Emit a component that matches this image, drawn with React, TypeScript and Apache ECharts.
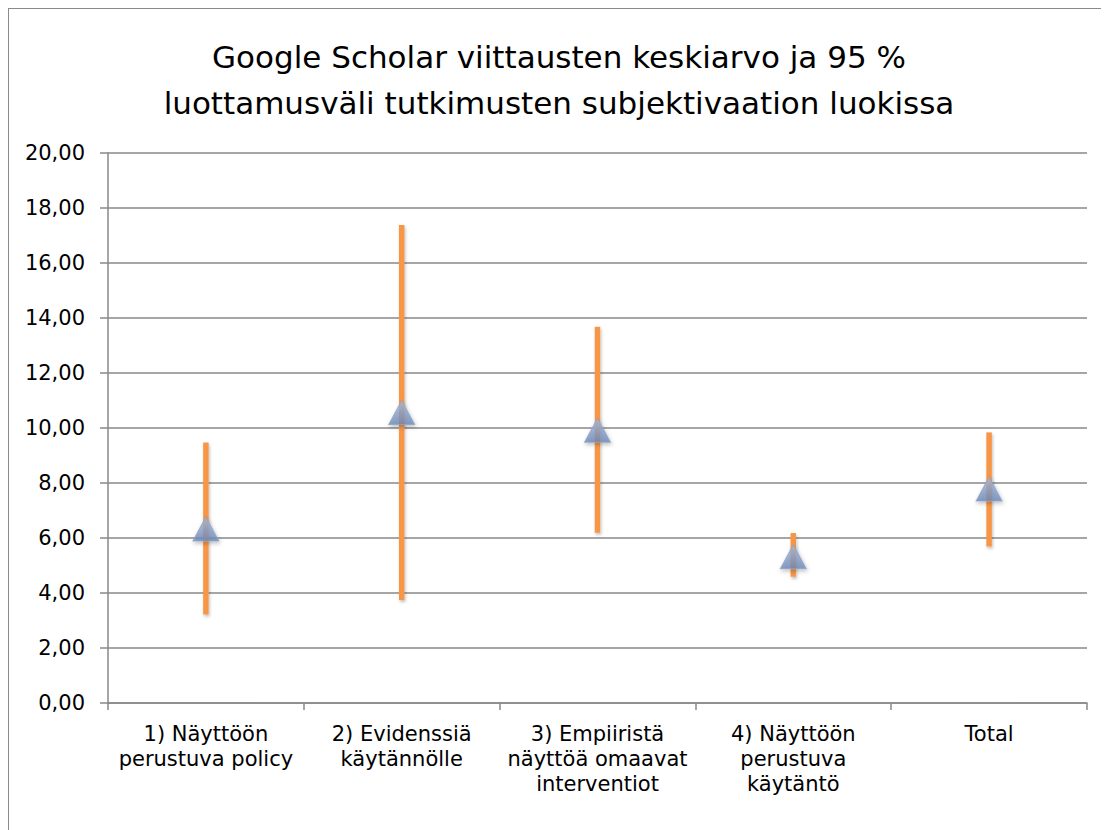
import React, { useEffect, useRef } from "react";
import * as echarts from "echarts";

const titleLines = [
  "Google Scholar viittausten keskiarvo ja 95 %",
  "luottamusväli tutkimusten subjektivaation luokissa",
];
const categories = [
  "1) Näyttöön\nperustuva policy",
  "2) Evidenssiä\nkäytännölle",
  "3) Empiiristä\nnäyttöä omaavat\ninterventiot",
  "4) Näyttöön\nperustuva\nkäytäntö",
  "Total",
];
const means = [6.33, 10.56, 9.92, 5.32, 7.78];
const lower = [3.22, 3.75, 6.19, 4.59, 5.69];
const upper = [9.47, 17.38, 13.68, 6.18, 9.84];

const FONT = "'DejaVu Sans', Verdana, sans-serif";

export default function App() {
  const ref = useRef<HTMLDivElement>(null);
  useEffect(() => {
    if (!ref.current) return;
    const chart = echarts.init(ref.current, undefined, { renderer: "svg" });
    const errData = categories.map((_, i) => [i, lower[i], upper[i]]);
    chart.setOption({
      animation: false,
      backgroundColor: "#ffffff",
      title: {
        text: titleLines.join("\n"),
        left: "center",
        top: 20,
        textStyle: {
          fontFamily: FONT,
          fontSize: 31,
          fontWeight: "normal",
          color: "#000000",
          lineHeight: 46,
        },
      },
      grid: { left: 99, right: 22, top: 144, bottom: 127 },
      xAxis: {
        type: "category",
        data: categories,
        boundaryGap: true,
        axisLine: { lineStyle: { color: "#888888", width: 1.5 } },
        axisTick: { show: true, length: 7, lineStyle: { color: "#888888", width: 1.5 } },
        axisLabel: {
          interval: 0,
          margin: 18,
          fontFamily: FONT,
          fontSize: 21,
          lineHeight: 25,
          color: "#000000",
          align: "center",
        },
        splitLine: { show: false },
      },
      yAxis: {
        type: "value",
        min: 0,
        max: 20,
        interval: 2,
        axisLine: { show: true, lineStyle: { color: "#888888", width: 1.5 } },
        axisTick: { show: true, length: 8, inside: false, lineStyle: { color: "#888888", width: 1.5 } },
        axisLabel: {
          margin: 23,
          fontFamily: FONT,
          fontSize: 21,
          color: "#000000",
          formatter: (v: number) => v.toFixed(2).replace(".", ","),
        },
        splitLine: { show: true, lineStyle: { color: "#888888", width: 1.5 } },
      },
      series: [
        {
          type: "custom",
          data: errData,
          encode: { x: 0, y: [1, 2] },
          z: 2,
          renderItem: (params: any, api: any) => {
            const lo = api.coord([api.value(0), api.value(1)]);
            const hi = api.coord([api.value(0), api.value(2)]);
            return {
              type: "rect",
              shape: { x: lo[0] - 2.75, y: hi[1], width: 5.5, height: lo[1] - hi[1] },
              style: {
                fill: "#F79646",
                shadowBlur: 3,
                shadowOffsetX: 1,
                shadowOffsetY: 2,
                shadowColor: "rgba(0,0,0,0.25)",
              },
            };
          },
        },
        {
          type: "scatter",
          data: means.map((m, i) => [i, m]),
          symbol: "triangle",
          symbolSize: [26, 24],
          z: 3,
          itemStyle: {
            color: new echarts.graphic.LinearGradient(0, 0, 0, 1, [
              { offset: 0, color: "#a9bcdb" },
              { offset: 1, color: "#6d87b6" },
            ]),
            borderColor: "#8ea4c9",
            borderWidth: 1,
            shadowBlur: 4,
            shadowOffsetX: 1,
            shadowOffsetY: 2,
            shadowColor: "rgba(0,0,0,0.3)",
          },
        },
      ],
    });
    return () => chart.dispose();
  }, []);
  return (
    <div
      style={{
        width: 1101,
        height: 822,
        borderLeft: "1px solid #8a8a8a",
        borderTop: "1px solid #8a8a8a",
        boxSizing: "border-box",
        overflow: "hidden",
      }}
    >
      <div ref={ref} style={{ width: 1100, height: 821 }} />
    </div>
  );
}
